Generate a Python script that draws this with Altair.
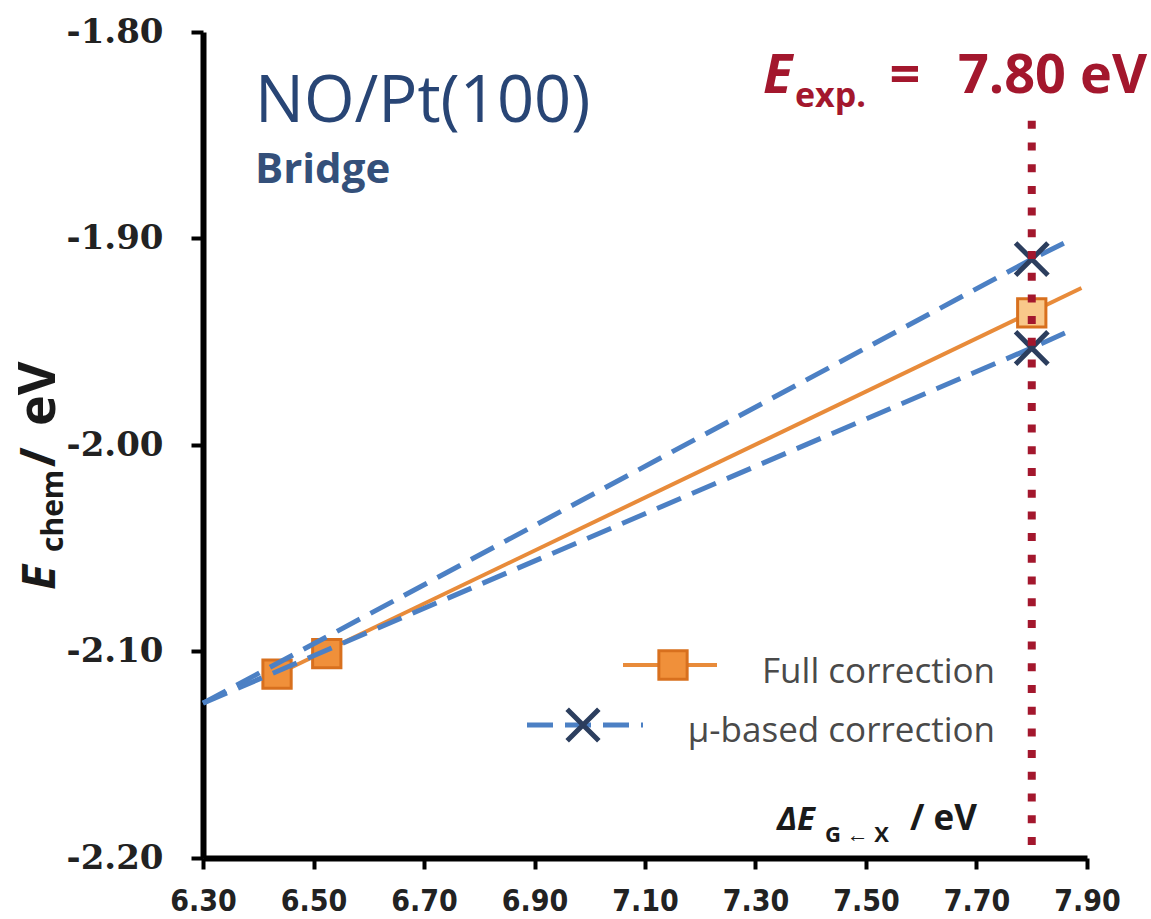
import altair as alt
import pandas as pd

# ---------------- data ----------------
x_ticks = [6.30, 6.50, 6.70, 6.90, 7.10, 7.30, 7.50, 7.70, 7.90]
y_ticks = [-2.20, -2.10, -2.00, -1.90, -1.80]

full_x = [6.434, 6.524, 7.80]
full_y = [-2.111, -2.101, -1.936]
full_fill = ["#F0903A", "#F0903A", "#F9C88A"]
full_trend_x = [6.434, 7.890]
full_trend_y = [-2.111, -1.924]

mu_upper_x = [6.30, 7.80, 7.875]
mu_upper_y = [-2.125, -1.910, -1.900]
mu_lower_x = [6.30, 7.80, 7.875]
mu_lower_y = [-2.125, -1.953, -1.944]
mu_marker_x = [7.80, 7.80]
mu_marker_y = [-1.910, -1.953]

e_exp = 7.80
e_exp_top = -1.843

# ---------------- tables ----------------
full_pts = pd.DataFrame({"x": full_x, "y": full_y, "fill": full_fill})
full_trend = pd.DataFrame({"x": full_trend_x, "y": full_trend_y})
mu_lines = pd.DataFrame({
    "x": mu_upper_x + mu_lower_x,
    "y": mu_upper_y + mu_lower_y,
    "s": ["upper"] * len(mu_upper_x) + ["lower"] * len(mu_lower_x),
})
mu_pts = pd.DataFrame({"x": mu_marker_x, "y": mu_marker_y})
exp_df = pd.DataFrame({"x": [e_exp], "y": [e_exp_top], "y2": [-2.20]})
one = pd.DataFrame({"a": [0]})

W, H = 884, 826
xs = alt.Scale(domain=[6.30, 7.90], nice=False, zero=False)
ys = alt.Scale(domain=[-2.20, -1.80], nice=False, zero=False)

x_axis = alt.Axis(
    values=x_ticks, format=".2f", title=None, grid=False,
    domainColor="black", domainWidth=6, tickColor="black", tickWidth=4,
    tickSize=11, labelPadding=17, labelFont="DejaVu Sans Condensed",
    labelFontWeight="bold", labelFontSize=30, labelColor="#222222",
    labelFlush=False, labelOverlap=False, labelBound=False,
)
y_axis = alt.Axis(
    values=y_ticks, labelExpr="'-' + format(abs(datum.value), '.2f')",
    title=None, grid=False,
    domainColor="black", domainWidth=6, tickColor="black", tickWidth=4,
    tickSize=12, labelPadding=28, labelFont="DejaVu Serif",
    labelFontWeight="bold", labelFontSize=34, labelColor="#222222",
    labelFlush=False, labelOverlap=False, labelBound=False,
)

X = alt.X("x:Q", scale=xs, axis=x_axis)
Y = alt.Y("y:Q", scale=ys, axis=y_axis)

ORANGE = "#E88B3A"
BLUE = "#4C80C4"
NAVY = "#2C3E5E"
RED = "#A3172D"
XSHAPE = "M-1,-1L1,1M-1,1L1,-1"

orange_line = alt.Chart(full_trend).mark_line(
    color=ORANGE, strokeWidth=4
).encode(x=X, y=Y)

orange_pts = alt.Chart(full_pts).mark_point(
    shape="square", filled=True, size=800, stroke="#D8701E", strokeWidth=3, opacity=1
).encode(x=X, y=Y, fill=alt.Fill("fill:N", scale=None))

blue_lines = alt.Chart(mu_lines).mark_line(
    color=BLUE, strokeWidth=5, strokeDash=[26, 12]
).encode(x=X, y=Y, detail="s:N")

blue_pts = alt.Chart(mu_pts).mark_point(
    shape=XSHAPE, filled=False, size=1050, color=NAVY, strokeWidth=5, opacity=1
).encode(x=X, y=Y)

red_rule = alt.Chart(exp_df).mark_rule(
    color=RED, strokeWidth=8, strokeDash=[8, 13.7], strokeCap="butt"
).encode(x=X, y=Y, y2="y2:Q")


def txt(text, x, y, size, color="#1a1a1a", weight="normal", style="normal",
        align="left", angle=0, font="Open Sans"):
    kw = dict(text=text, fontSize=size, color=color, fontWeight=weight,
              fontStyle=style, align=align, baseline="alphabetic", font=font)
    if angle:
        kw["angle"] = angle
    return alt.Chart(one).mark_text(**kw).encode(x=alt.value(x), y=alt.value(y))


texts = [
    # panel title
    txt("NO/Pt(100)", 52, 90, 65, color="#284575"),
    txt("Bridge", 52, 151, 42, color="#34507A", weight="bold"),
    # experimental value
    txt("E", 560, 61, 54, color=RED, weight="bold", style="italic"),
    txt("exp.", 592, 75, 34, color=RED, weight="bold"),
    txt("=", 702, 61, 54, color=RED, weight="bold", align="center"),
    txt("7.80 eV", 944, 61, 54, color=RED, weight="bold", align="right"),
    # x-axis title
    txt("ΔE", 574, 798, 33, weight="bold", style="italic"),
    txt("G ← X", 622, 810, 22, weight="bold"),
    txt("/ eV", 707, 798, 35, weight="bold"),
    # y-axis title (rotated)
    txt("E", -148, 558, 46, weight="bold", style="italic", angle=270),
    txt("chem", -140, 520, 30, weight="bold", angle=270),
    txt("/", -148, 435, 48, weight="bold", angle=270),
    txt("eV", -148, 394, 52, weight="bold", angle=270),
    # legend text
    txt("Full correction", 792, 651, 35, color="#4A4A4A", align="right"),
    txt("μ-based correction", 792, 710, 35, color="#4A4A4A", align="right"),
]

legend_marks = [
    alt.Chart(one).mark_rule(color=ORANGE, strokeWidth=4).encode(
        x=alt.value(420), x2=alt.value(514), y=alt.value(633)),
    alt.Chart(one).mark_point(shape="square", filled=True, size=800, fill="#F0903A",
                              stroke="#D8701E", strokeWidth=3, opacity=1).encode(
        x=alt.value(470), y=alt.value(633)),
    alt.Chart(one).mark_rule(color=BLUE, strokeWidth=5, strokeDash=[26, 12]).encode(
        x=alt.value(324), x2=alt.value(440), y=alt.value(693)),
    alt.Chart(one).mark_point(shape=XSHAPE, filled=False, size=1000, color=NAVY,
                              strokeWidth=5, opacity=1).encode(
        x=alt.value(380), y=alt.value(693)),
]

chart = alt.layer(
    orange_line, orange_pts, blue_lines, blue_pts, red_rule, *legend_marks, *texts
).properties(
    width=W, height=H,
    autosize=alt.AutoSizeParams(type="none"),
    padding={"left": 203, "top": 32, "right": 64, "bottom": 61},
    background="white",
).configure_view(stroke=None)

chart.save("out.html", embed_options={"renderer": "svg", "actions": False})
